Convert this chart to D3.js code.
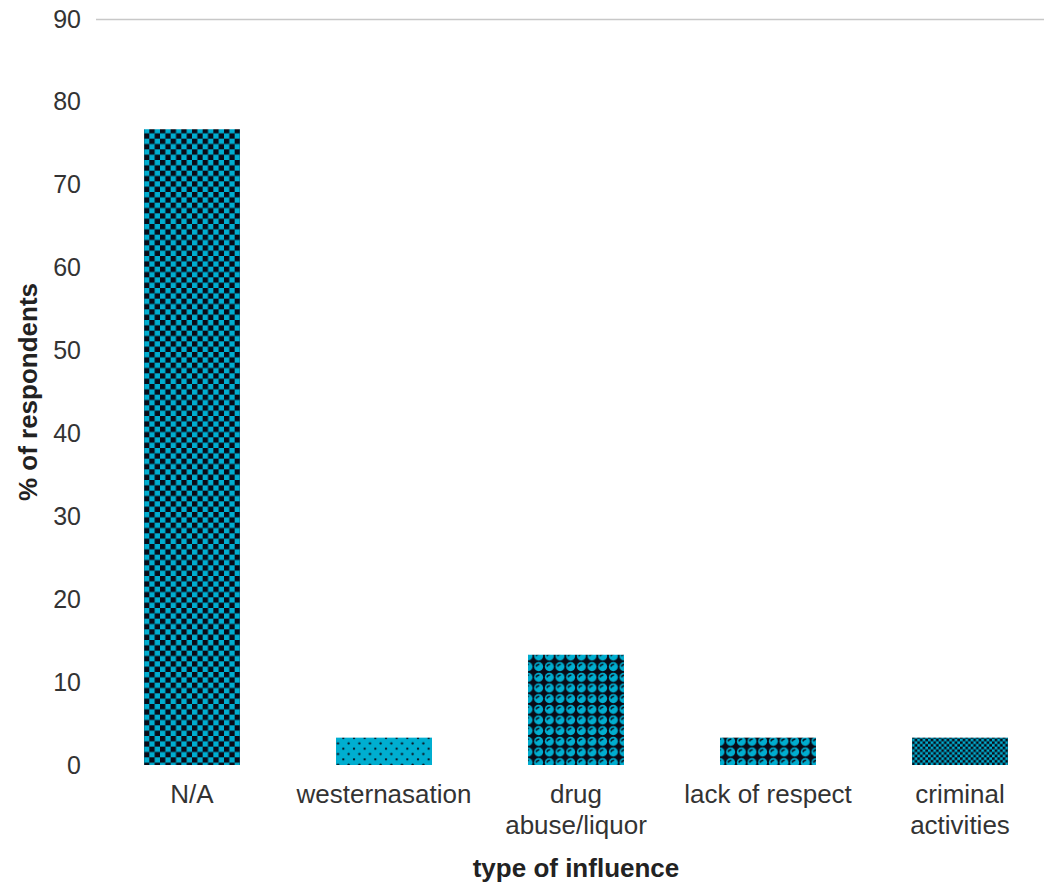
<!DOCTYPE html>
<html>
<head>
<meta charset="utf-8">
<script src="https://cdn.jsdelivr.net/npm/d3@7"></script>
<style>
  body { margin: 0; background: #fff; }
  svg { display: block; font-family: "Liberation Sans", Arial, sans-serif; }
</style>
</head>
<body>
<svg id="chart" width="1044" height="884"></svg>
<script>
// Survey results: type of influence reported by respondents
const categories = ["N/A", "westernasation", "drug abuse/liquor", "lack of respect", "criminal activities"];
const categoryLines = [["N/A"], ["westernasation"], ["drug", "abuse/liquor"], ["lack of respect"], ["criminal", "activities"]];
const values = [76.7, 3.3, 13.3, 3.3, 3.3];
const yTicks = [0, 10, 20, 30, 40, 50, 60, 70, 80, 90];
const fillPatterns = ["checkLarge", "dots", "sphere", "sphere", "checkSmall"];

const cyan = "#00aed0";
const dark = "#0a0a16";

const svg = d3.select("#chart");
const margin = { left: 96, right: -12, top: 19, bottom: 119 };
const W = 1044, H = 884;

const x = d3.scaleBand().domain(categories)
  .range([margin.left, W - margin.right]).paddingInner(0.5).paddingOuter(0.25);
const y = d3.scaleLinear().domain([0, 90]).range([H - margin.bottom, margin.top]);

// 8x8 cell fill patterns, drawn at 4/3 scale
const defs = svg.append("defs");
function pattern(id) {
  return defs.append("pattern").attr("id", id)
    .attr("patternUnits", "userSpaceOnUse").attr("width", 8).attr("height", 8)
    .attr("patternTransform", "scale(1.3333)");
}
{
  const p = pattern("checkLarge");
  p.append("rect").attr("width", 8).attr("height", 8).attr("fill", cyan);
  p.append("rect").attr("width", 4).attr("height", 4).attr("fill", dark);
  p.append("rect").attr("x", 4).attr("y", 4).attr("width", 4).attr("height", 4).attr("fill", dark);
}
{
  const p = pattern("checkSmall");
  p.append("rect").attr("width", 8).attr("height", 8).attr("fill", cyan);
  for (let i = 0; i < 4; i++) for (let j = 0; j < 4; j++) {
    if ((i + j) % 2 === 0) p.append("rect").attr("x", i * 2).attr("y", j * 2)
      .attr("width", 2).attr("height", 2).attr("fill", dark);
  }
}
{
  const p = pattern("dots");
  p.append("rect").attr("width", 8).attr("height", 8).attr("fill", cyan);
  p.append("circle").attr("cx", 1.5).attr("cy", 1.5).attr("r", 0.85).attr("fill", dark);
  p.append("circle").attr("cx", 5.5).attr("cy", 5.5).attr("r", 0.85).attr("fill", dark);
}
{
  const p = pattern("sphere");
  p.append("rect").attr("width", 8).attr("height", 8).attr("fill", dark);
  p.append("circle").attr("cx", 4).attr("cy", 4).attr("r", 3.4).attr("fill", cyan);
  p.append("path").attr("d", "M2.2,4 Q2.6,2.2 4.6,2.4").attr("fill", "none")
    .attr("stroke", dark).attr("stroke-width", 1.1);
}

// Top gridline only
svg.append("line")
  .attr("x1", margin.left).attr("x2", W)
  .attr("y1", y(90) + 0.5).attr("y2", y(90) + 0.5)
  .attr("stroke", "#c8c8c8").attr("stroke-width", 1.5);

// Y axis
const yAxis = svg.append("g")
  .attr("transform", `translate(${margin.left - 15},0)`)
  .call(d3.axisLeft(y).tickValues(yTicks).tickSize(0).tickPadding(0));
yAxis.select(".domain").remove();
yAxis.selectAll("text").attr("font-size", 25).attr("fill", "#333")
  .attr("font-family", "Liberation Sans, Arial, sans-serif");

// Bars
svg.selectAll(".bar").data(categories).enter().append("rect")
  .attr("class", "bar")
  .attr("x", d => x(d))
  .attr("width", x.bandwidth())
  .attr("y", (d, i) => y(values[i]))
  .attr("height", (d, i) => y(0) - y(values[i]))
  .attr("fill", (d, i) => `url(#${fillPatterns[i]})`);

// X axis labels
const xAxis = svg.append("g")
  .attr("transform", `translate(0,${y(0)})`)
  .call(d3.axisBottom(x).tickSize(0).tickPadding(0));
xAxis.select(".domain").remove();
xAxis.selectAll("text").each(function(d, i) {
  const t = d3.select(this);
  t.text(null).attr("font-size", 26).attr("fill", "#333")
    .attr("font-family", "Liberation Sans, Arial, sans-serif").attr("y", 0).attr("dy", null);
  categoryLines[i].forEach((line, k) => {
    t.append("tspan").attr("x", 0).attr("y", 38 + k * 31).text(line);
  });
});

// Axis titles
svg.append("text")
  .attr("x", (margin.left + W - margin.right) / 2).attr("y", 877)
  .attr("text-anchor", "middle").attr("font-size", 26).attr("font-weight", "bold").attr("fill", "#222")
  .text("type of influence");
svg.append("text")
  .attr("transform", `translate(37,${(y(0) + y(90)) / 2}) rotate(-90)`)
  .attr("text-anchor", "middle").attr("font-size", 26).attr("font-weight", "bold").attr("fill", "#222")
  .text("% of respondents");
</script>
</body>
</html>
